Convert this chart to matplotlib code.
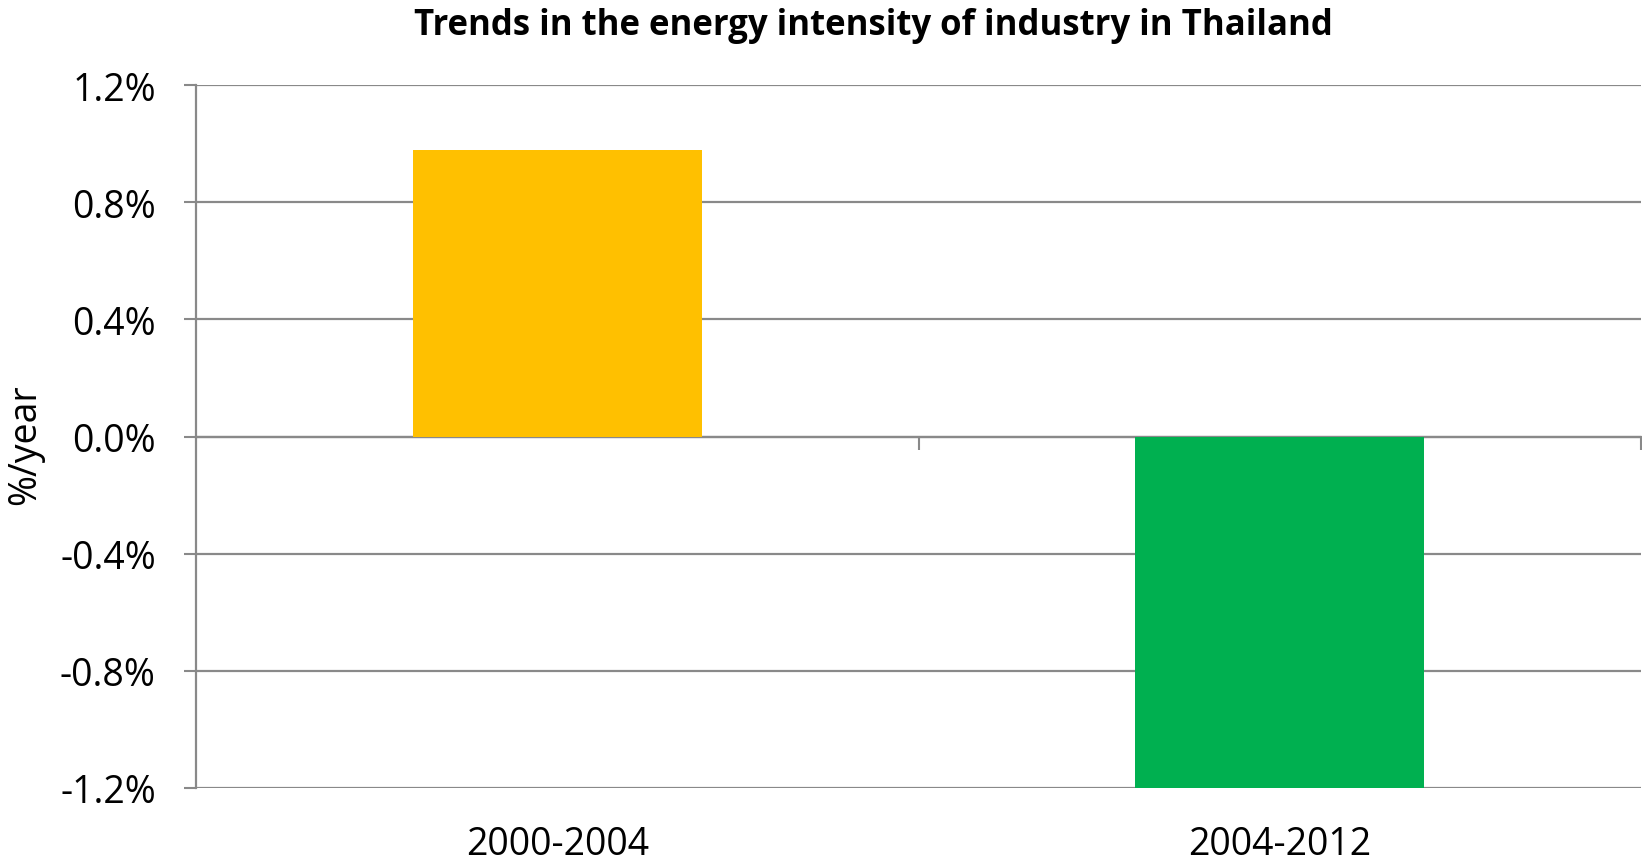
import matplotlib.pyplot as plt
from matplotlib.ticker import FuncFormatter
import matplotlib.transforms as mtransforms

periods = ['2000-2004', '2004-2012']
values = [0.98, -1.2]   # %/year
colors = ['#FFC000', '#00B050']
yticks = [-1.2, -0.8, -0.4, 0.0, 0.4, 0.8, 1.2]

plt.rcParams['font.family'] = ['Open Sans', 'DejaVu Sans']
grey = '#898989'

fig = plt.figure(figsize=(16.42, 8.62), dpi=100)
ax = fig.add_axes([0.1194, 0.0847, 0.8800, 0.8153])

x = list(range(len(periods)))
ax.bar(x, values, width=0.4, color=colors, zorder=3)

ax.set_xlim(-0.5, 1.5)
ax.set_ylim(-1.2, 1.2)
ax.set_yticks(yticks)
ax.yaxis.set_major_formatter(FuncFormatter(lambda v, p: f'{v:.1f}%'))
ax.tick_params(axis='y', labelsize=27, length=9, width=1.5, color=grey, pad=20)
ax.grid(axis='y', color=grey, linewidth=1.6, zorder=0)

# x axis drawn at zero, with ticks between categories
ax.spines['bottom'].set_position(('data', 0))
ax.spines['bottom'].set_color(grey)
ax.spines['bottom'].set_linewidth(1.6)
ax.spines['left'].set_color(grey)
ax.spines['left'].set_linewidth(1.6)
ax.spines['top'].set_visible(False)
ax.spines['right'].set_visible(False)
ax.set_xticks([0.5, 1.5])
ax.set_xticklabels([])
ax.tick_params(axis='x', length=9, width=1.5, color=grey, direction='out')

trans = mtransforms.blended_transform_factory(ax.transData, ax.transAxes)
for xi, lab in zip(x, periods):
    ax.text(xi, -0.08, lab, transform=trans, ha='center', va='center', fontsize=27)

ax.set_ylabel('%/year', fontsize=27)
ax.yaxis.set_label_coords(-0.105, 0.49)

fig.text(0.532, 0.970, 'Trends in the energy intensity of industry in Thailand',
         ha='center', va='center', fontsize=25, fontweight='bold')

fig.savefig('out.png', dpi=100)
